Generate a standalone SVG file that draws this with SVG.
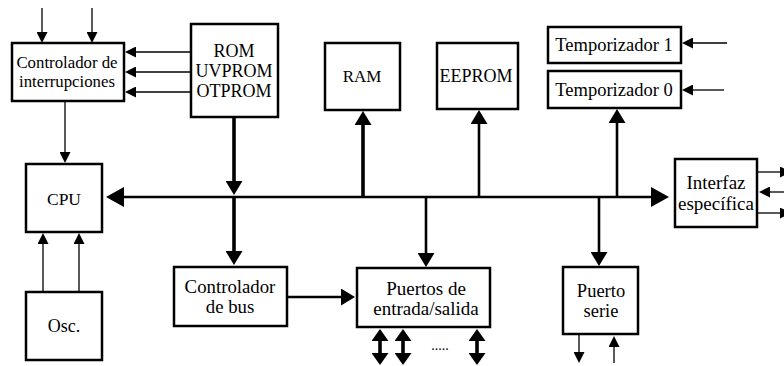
<svg xmlns="http://www.w3.org/2000/svg" width="784" height="366" viewBox="0 0 784 366">
<style>
.box{fill:#fff;stroke:#000;stroke-width:2.5}
text{font-family:"Liberation Serif","Times New Roman",serif;fill:#000;text-anchor:middle}
.thin{stroke:#000;stroke-width:1.3;fill:none}
.med{stroke:#000;stroke-width:2.6;fill:none}
.thick{stroke:#000;stroke-width:3.6;fill:none}
</style>
<defs>
<marker id="sm" markerUnits="userSpaceOnUse" markerWidth="11" markerHeight="11" viewBox="0 0 11 11" refX="1" refY="5.5" orient="auto"><path d="M0,0 L11,5.5 L0,11 z"/></marker>
<marker id="lg" markerUnits="userSpaceOnUse" markerWidth="14" markerHeight="17" viewBox="0 0 14 17" refX="1" refY="8.5" orient="auto-start-reverse"><path d="M0,0 L14,8.5 L0,17 z"/></marker>
<marker id="bd" markerUnits="userSpaceOnUse" markerWidth="12" markerHeight="17" viewBox="0 0 12 17" refX="1" refY="8.5" orient="auto-start-reverse"><path d="M0,0 L12,8.5 L0,17 z"/></marker>
<marker id="bg" markerUnits="userSpaceOnUse" markerWidth="18" markerHeight="20" viewBox="0 0 18 20" refX="1" refY="10" orient="auto-start-reverse"><path d="M0,0 L18,10 L0,20 z"/></marker>
</defs>
<g id="connectors">
<line class="thin" x1="42" y1="8" x2="42" y2="33" marker-end="url(#sm)"/>
<line class="thin" x1="92" y1="8" x2="92" y2="33" marker-end="url(#sm)"/>
<line class="thin" x1="190" y1="52" x2="135" y2="52" marker-end="url(#sm)"/>
<line class="thin" x1="190" y1="72" x2="135" y2="72" marker-end="url(#sm)"/>
<line class="thin" x1="190" y1="92" x2="135" y2="92" marker-end="url(#sm)"/>
<line class="thin" x1="65" y1="102" x2="65" y2="153" marker-end="url(#sm)"/>
<line class="thin" x1="43" y1="291" x2="43" y2="243" marker-end="url(#sm)"/>
<line class="thin" x1="79" y1="291" x2="79" y2="243" marker-end="url(#sm)"/>
<line class="med" x1="123" y1="197" x2="652" y2="197" marker-start="url(#bg)" marker-end="url(#bg)"/>
<line class="thick" x1="234" y1="118" x2="234" y2="182" marker-end="url(#lg)"/>
<line class="thick" x1="234" y1="197" x2="234" y2="252" marker-end="url(#lg)"/>
<line class="thick" x1="363" y1="197" x2="363" y2="124" marker-end="url(#lg)"/>
<line class="med" x1="479" y1="197" x2="479" y2="123" marker-end="url(#lg)"/>
<line class="med" x1="617" y1="197" x2="617" y2="122" marker-end="url(#lg)"/>
<line class="med" x1="426" y1="197" x2="426" y2="254" marker-end="url(#lg)"/>
<line class="med" x1="599" y1="197" x2="599" y2="253" marker-end="url(#lg)"/>
<line class="med" x1="288" y1="297" x2="342" y2="297" marker-end="url(#lg)"/>
<line class="thin" x1="727" y1="43" x2="692" y2="43" marker-end="url(#sm)"/>
<line class="thin" x1="724" y1="90" x2="692" y2="90" marker-end="url(#sm)"/>
<line class="thin" x1="758" y1="172" x2="781" y2="172" marker-end="url(#sm)"/>
<line class="thin" x1="784" y1="192" x2="769" y2="192" marker-end="url(#sm)"/>
<line class="thin" x1="758" y1="213" x2="781" y2="213" marker-end="url(#sm)"/>
<line class="thin" x1="579" y1="335" x2="579" y2="353" marker-end="url(#sm)"/>
<line class="thin" x1="614" y1="363" x2="614" y2="346" marker-end="url(#sm)"/>
<line class="thick" x1="380" y1="340" x2="380" y2="354" marker-start="url(#bd)" marker-end="url(#bd)"/>
<line class="thick" x1="403" y1="340" x2="403" y2="354" marker-start="url(#bd)" marker-end="url(#bd)"/>
<line class="thick" x1="477" y1="340" x2="477" y2="354" marker-start="url(#bd)" marker-end="url(#bd)"/>
</g>
<g id="int-ctrl"><rect class="box" x="12" y="43" width="112" height="58"/><text x="67" y="68" font-size="16.8">Controlador de</text><text x="67" y="87" font-size="16.8">interrupciones</text></g>
<g id="rom"><rect class="box" x="191" y="24" width="87" height="93"/><text x="234" y="57" font-size="18">ROM</text><text x="234" y="77" font-size="18">UVPROM</text><text x="234" y="97" font-size="18">OTPROM</text></g>
<g id="ram"><rect class="box" x="325" y="43" width="75" height="67"/><text x="362" y="82" font-size="17">RAM</text></g>
<g id="eeprom"><rect class="box" x="437" y="43" width="81" height="66"/><text x="476" y="82" font-size="18">EEPROM</text></g>
<g id="temp1"><rect class="box" x="548" y="27" width="133" height="36"/><text x="614" y="51" font-size="18.5">Temporizador 1</text></g>
<g id="temp0"><rect class="box" x="548" y="71" width="133" height="37"/><text x="614" y="96" font-size="18.5">Temporizador 0</text></g>
<g id="cpu"><rect class="box" x="26" y="164" width="76" height="68"/><text x="64" y="205" font-size="17.5">CPU</text></g>
<g id="osc"><rect class="box" x="26" y="292" width="76" height="68"/><text x="64" y="332" font-size="18">Osc.</text></g>
<g id="bus-ctrl"><rect class="box" x="174" y="267" width="113" height="59"/><text x="230" y="293" font-size="18.8">Controlador</text><text x="230" y="313" font-size="18.8">de bus</text></g>
<g id="puertos"><rect class="box" x="357" y="268" width="133" height="59"/><text x="426" y="295" font-size="19">Puertos de</text><text x="426" y="315" font-size="19">entrada/salida</text><text x="440" y="350" font-size="14">.....</text></g>
<g id="serie"><rect class="box" x="563" y="267" width="75" height="67"/><text x="601" y="297" font-size="18.5">Puerto</text><text x="601" y="317" font-size="18.5">serie</text></g>
<g id="interfaz"><rect class="box" x="675" y="159" width="82" height="68"/><text x="716" y="189" font-size="19">Interfaz</text><text x="716" y="210" font-size="19">específica</text></g>
</svg>
